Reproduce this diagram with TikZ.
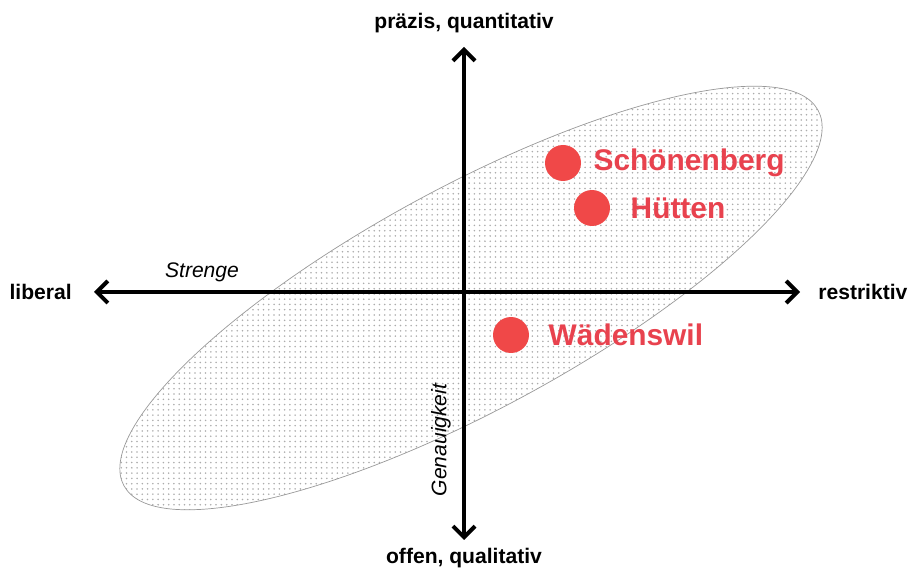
\documentclass[tikz,border=0pt]{standalone}
\usepackage{fontspec}
\setmainfont{Liberation Sans}
\usepackage{xcolor}
\usepackage{tikz}
\usetikzlibrary{arrows.meta,positioning,patterns}
\definecolor{ortred}{RGB}{240,72,72}
\definecolor{ortlabel}{RGB}{232,66,78}

\begin{document}
\begin{tikzpicture}[
  x=0.02cm, y=0.02cm,
  axis/.style={line width=2.3pt, {Straight Barb[length=2.2mm, width=4.4mm, line width=2.3pt]}-{Straight Barb[length=2.2mm, width=4.4mm, line width=2.3pt]}},
  pole/.style={font=\bfseries\fontsize{12}{14}\selectfont, inner sep=0pt},
  dimlabel/.style={font=\itshape\fontsize{12}{14}\selectfont, inner sep=0pt},
  ort/.style={circle, fill=ortred, minimum size=0.72cm, inner sep=0pt},
  ortname/.style={font=\bfseries\fontsize{17}{20}\selectfont, text=ortlabel, inner sep=0pt},
]
\useasboundingbox (0,0) rectangle (910,568);

% Streuung der Gemeinden
\draw[gray!80, line width=0.4pt, pattern=dots, pattern color=gray!65]
  (471,270) [rotate around={28.4:(471,270)}] ellipse (394.6 and 111.5);

% Achsen
\coordinate (lft) at (94,276);
\coordinate (rgt) at (800,276);
\coordinate (top) at (464,521);
\coordinate (bot) at (464,28);

\draw[axis] (lft) -- (rgt);
\draw[axis] (bot) -- (top);

\node[pole, left=0.44cm of lft] (liberal) {liberal};
\node[pole, right=0.36cm of rgt] (restriktiv) {restriktiv};
\node[pole, above=0.28cm of top] (praezis) {präzis, quantitativ};
\node[pole, below=0.16cm of bot] (offen) {offen, qualitativ};

\node[dimlabel] (strenge) at (202,296) {Strenge};
\node[dimlabel, rotate=90] (genau) at (441,128) {Genauigkeit};

% Gemeinden
\node[ort] (schoen) at (563,405) {};
\node[ort] (huetten) at (592,360) {};
\node[ort] (waed) at (511,233) {};

\node[ortname, right=0.24cm of schoen] {Schönenberg};
\node[ortname, right=0.4cm of huetten] {Hütten};
\node[ortname, right=0.38cm of waed] {Wädenswil};

\end{tikzpicture}
\end{document}
